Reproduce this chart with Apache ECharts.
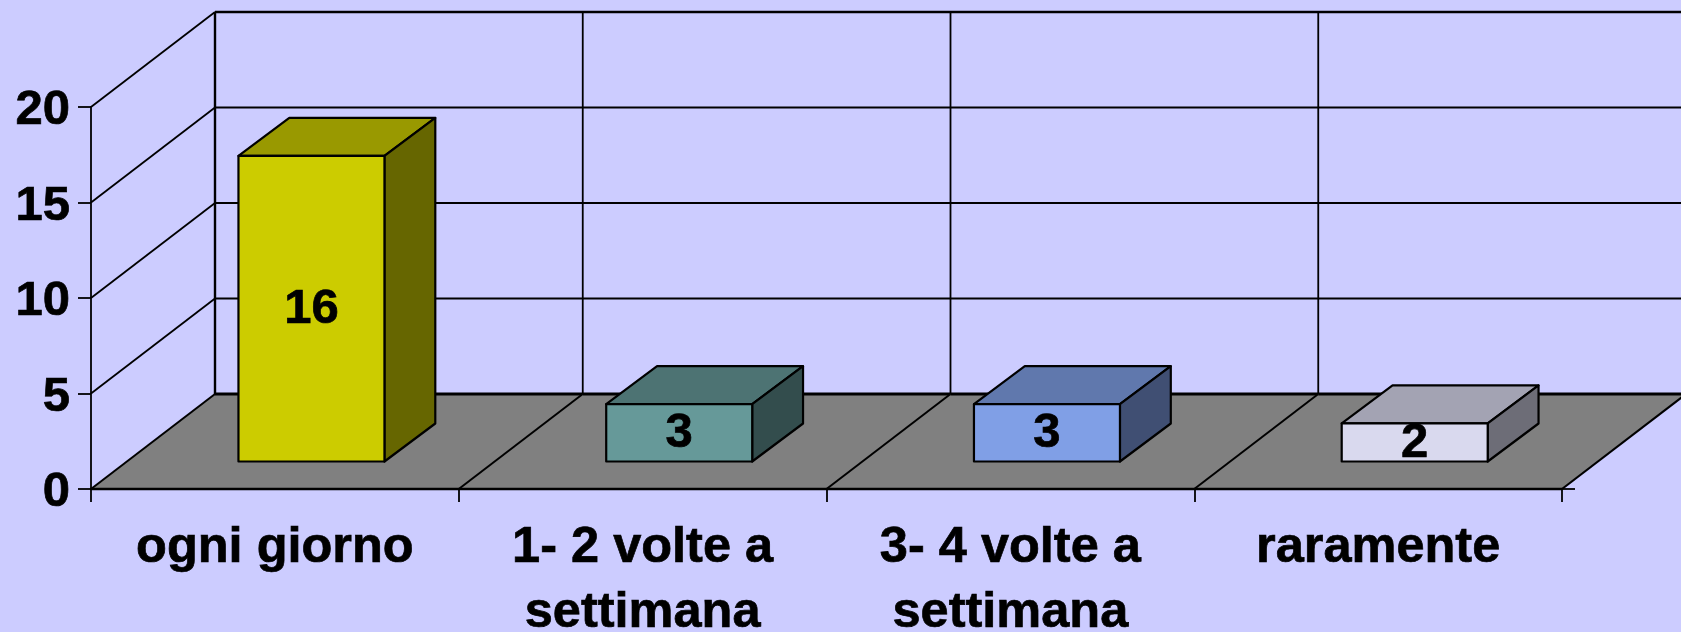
<!DOCTYPE html>
<html><head><meta charset="utf-8">
<style>html,body{margin:0;padding:0;background:#CCCCFF}#c{width:1681px;height:632px}</style>
<script src="https://cdn.jsdelivr.net/npm/echarts@6/dist/echarts.min.js"></script>
</head><body><div id="c"></div>
<script>
const categories = ['ogni giorno', '1- 2 volte a\nsettimana', '3- 4 volte a\nsettimana', 'raramente'];
const values = [16, 3, 3, 2];
const valueTicks = [0, 5, 10, 15, 20];
const frontColors = ['#CCCC00', '#669999', '#809FE6', '#D9D9EE'];
const topColors = ['#999900', '#4D7373', '#6078AD', '#A3A3B3'];
const sideColors = ['#666600', '#334D4D', '#404F73', '#6D6D77'];

const DX = 124, DY = 95, FONT = 'bold 49px "Liberation Sans", Arial, sans-serif';
const chart = echarts.init(document.getElementById('c'), null, {renderer: 'canvas'});
const line = (a, b, w) => ({type: 'line', shape: {x1: a[0], y1: a[1], x2: b[0], y2: b[1]},
  style: {stroke: '#000', lineWidth: w, fill: null}});
const poly = (pts, fill, sw) => ({type: 'polygon', shape: {points: pts},
  style: {fill: fill, stroke: sw ? '#000' : null, lineWidth: sw || 0, lineJoin: 'round'}});

function renderFloor(params, api) {
  const i = params.dataIndex, p = api.coord([i, 0]), bw = api.size([1, 0])[0];
  const L = p[0] - bw / 2, R = p[0] + bw / 2, y = p[1], ch = [];
  ch.push(poly([[L, y], [R, y], [R + DX, y - DY], [L + DX, y - DY]], '#808080'));
  ch.push(line([L, y], [L + DX, y - DY], 2));
  const wallTop = api.coord([i, 20])[1] - DY;
  ch.push(line([L + DX, y - DY], [L + DX, wallTop], i === 0 ? 2.4 : 1.8));
  ch.push(line([L + DX, y - DY], [R + DX, y - DY], 2.8));
  if (i === categories.length - 1) {
    ch.push(line([R, y], [R + DX, y - DY], 2.2));
    ch.push(line([R, y], [R + 13, y], 1.8));
  }
  return {type: 'group', children: ch};
}
function renderWall(params, api) {
  const v = api.value(0);
  const a = api.coord([0, v]), b = api.coord([categories.length - 1, v]), bw = api.size([1, 0])[0];
  const L = a[0] - bw / 2, R = b[0] + bw / 2, y = a[1], ch = [];
  if (v > 0) {
    ch.push(line([L, y], [L + DX, y - DY], 1.8));
    ch.push(line([L + DX, y - DY], [R + DX, y - DY], v === 20 ? 2.6 : 1.8));
  }
  return {type: 'group', children: ch};
}
function renderBar(params, api) {
  const i = params.dataIndex, v = api.value(1);
  const c = api.coord([i, 0]), t = api.coord([i, v]), bw = api.size([1, 0])[0];
  const barW = bw * 0.397, dx = DX * 0.41, dy = DY * 0.40;
  const ox = (DX - dx) / 2, oy = (DY - dy) / 2 - 1;
  const L = c[0] - barW / 2 + ox, R = L + barW, B = c[1] - oy, T = t[1] - oy;
  return {type: 'group', children: [
    poly([[L, T], [R, T], [R + dx, T - dy], [L + dx, T - dy]], topColors[i], 2.2),
    poly([[R, T], [R + dx, T - dy], [R + dx, B - dy], [R, B]], sideColors[i], 2.2),
    poly([[L, T], [R, T], [R, B], [L, B]], frontColors[i], 2.2),
    {type: 'text', z2: 10, style: {text: String(v), x: (L + R) / 2, y: (T + B) / 2 + 1,
      align: 'center', verticalAlign: 'middle', font: FONT, fill: '#000', stroke: '#000', lineWidth: 0.7}}
  ]};
}

chart.setOption({
  backgroundColor: '#CCCCFF',
  animation: false,
  grid: {left: 91, width: 1471, top: 107, height: 382, outerBoundsMode: 'none'},
  xAxis: {type: 'category', data: categories, z: 6,
    axisLine: {show: true, lineStyle: {color: '#000', width: 2.4}},
    axisTick: {show: true, length: 13, lineStyle: {color: '#000', width: 1.8}},
    axisLabel: {interval: 0, margin: 27, lineHeight: 65, color: '#000',
      fontFamily: '"Liberation Sans", Arial, sans-serif', fontWeight: 'bold', fontSize: 50.5,
      textBorderColor: '#000', textBorderWidth: 0.7},
    splitLine: {show: false}},
  yAxis: {type: 'value', min: 0, max: 20, interval: 5, z: 6,
    axisLine: {show: true, lineStyle: {color: '#000', width: 1.8}},
    axisTick: {show: true, length: 13, lineStyle: {color: '#000', width: 1.8}},
    axisLabel: {margin: 21, formatter: '{t|{value}}',
      rich: {t: {padding: [7, 0, 0, 0], color: '#000',
        fontFamily: '"Liberation Sans", Arial, sans-serif', fontWeight: 'bold', fontSize: 49,
        textBorderColor: '#000', textBorderWidth: 0.7}}},
    splitLine: {show: false}},
  series: [
    {type: 'custom', name: 'floor', z: 1, clip: false, silent: true,
      renderItem: renderFloor, data: categories.map((c, i) => [i, 0])},
    {type: 'custom', name: 'wall', z: 2, clip: false, silent: true,
      renderItem: renderWall, data: valueTicks.map(v => [v])},
    {type: 'custom', name: 'bars', z: 3, clip: false, silent: true,
      renderItem: renderBar, data: values.map((v, i) => [i, v])}
  ]
});
</script></body></html>
